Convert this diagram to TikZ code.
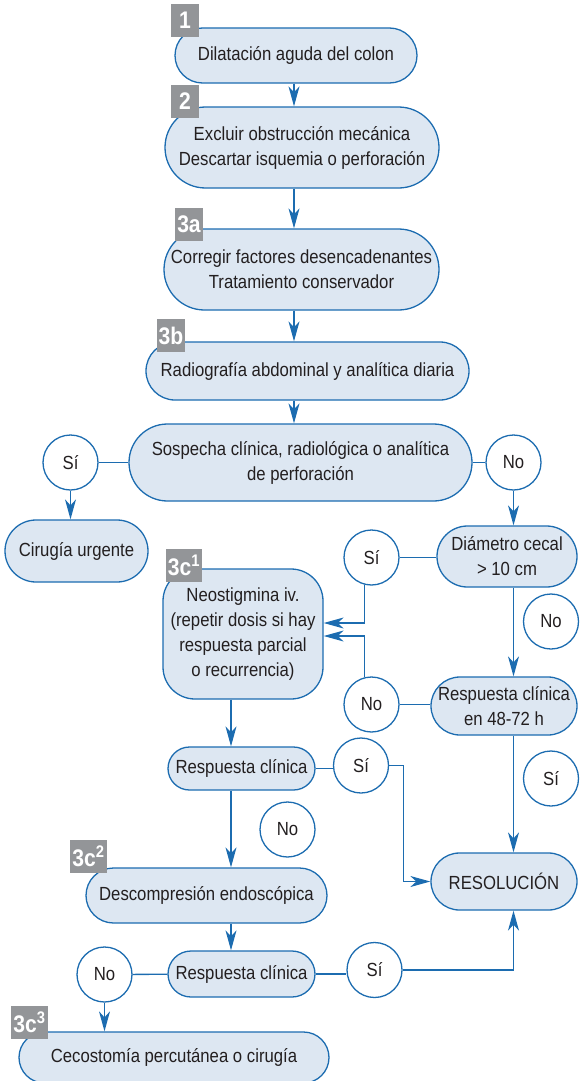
\documentclass[tikz,border=0pt]{standalone}
\usepackage{fontspec}
\setmainfont{Liberation Sans}[FakeStretch=0.88]
\usetikzlibrary{arrows.meta}
\definecolor{flowblue}{RGB}{28,108,176}
\definecolor{flowfill}{RGB}{221,231,242}
\definecolor{taggray}{RGB}{147,149,152}
\definecolor{flowtext}{RGB}{35,31,32}
\begin{document}
\begin{tikzpicture}[x=1pt, y=-1pt,
        font=\fontsize{19}{25}\selectfont, text=flowtext,
        >={Stealth[length=20pt, width=11pt, inset=6pt]},
        stage/.style 2 args={draw=flowblue, fill=flowfill, line width=1.3pt,
                    minimum width=#1pt, minimum height=#2pt,
                    rounded corners=#2pt/2, align=center, inner sep=0pt},
        answer/.style={circle, draw=flowblue, fill=white, line width=1.3pt,
                    minimum size=55pt, inner sep=0pt},
        tag/.style={fill=taggray, text=white, inner sep=2pt, minimum width=28pt,
                    minimum height=33pt, font=\fontsize{24}{24}\selectfont\bfseries},
        flow/.style={->, draw=flowblue, line width=1.3pt},
        link/.style={draw=flowblue, line width=1.3pt}]
      \useasboundingbox (0,0) rectangle (579,1081);
      % Columnas de las flechas
      \coordinate (spine)   at (294,0);
      \coordinate (leftcol) at (231,0);
      % Pasos principales
      \node[stage={242}{55}] (colon)   at (296,55.5)  {Dilatación aguda del colon};
      \node[stage={274}{81}] (exclude) at (302,147.5) {Excluir obstrucción mecánica\\Descartar isquemia o perforación};
      \node[stage={275}{81}] (correct) at (301.5,269.5) {Corregir factores desencadenantes\\Tratamiento conservador};
      \node[stage={323}{58}] (xray)    at (307.5,371) {Radiografía abdominal y analítica diaria};
      \node[stage={343}{77}] (suspect) at (300.5,462.5) {Sospecha clínica, radiológica o analítica\\de perforación};
      \node[stage={143}{62}] (surgery) at (76.5,551)  {Cirugía urgente};
      \node[stage={140}{61}] (cecal)   at (507,556.5) {Diámetro cecal\\> 10 cm};
      \node[stage={160}{130}, rounded corners=32pt] (neostig) at (243,634)
            {Neostigmina iv.\\(repetir dosis si hay\\respuesta parcial\\o recurrencia)};
      \node[stage={146}{58}] (resp48)  at (504,706)   {Respuesta clínica\\en 48-72 h};
      \node[stage={147}{43}] (respA)   at (241.5,768.5) {Respuesta clínica};
      \node[stage={146}{57}] (resolved) at (504,881.5) {RESOLUCIÓN};
      \node[stage={241}{55}] (endo)    at (206.5,895.5) {Descompresión endoscópica};
      \node[stage={147}{46}] (respB)   at (241.5,974) {Respuesta clínica};
      \node[stage={310}{51}] (cecost)  at (174,1057.5) {Cecostomía percutánea o cirugía};
      % Respuestas
      \node[answer] (yesPerf)   at (70.5,462.5)  {Sí};
      \node[answer] (noPerf)    at (513.5,462.5) {No};
      \node[answer] (yesCecal)  at (371.5,557.5) {Sí};
      \node[answer] (noCecal)   at (551,621.5)   {No};
      \node[answer] (noResp48)  at (371.5,704.5) {No};
      \node[answer] (yesResp48) at (551,778.5)   {Sí};
      \node[answer] (yesRespA)  at (361,765.5)   {Sí};
      \node[answer] (noRespA)   at (287.5,829.5) {No};
      \node[answer] (noRespB)   at (104.5,974.5) {No};
      \node[answer] (yesRespB)  at (374.5,970)   {Sí};
      % Etiquetas de paso
      \node[tag] (tag1)  at (185,20.5)    {1};
      \node[tag] (tag2)  at (185,101)     {2};
      \node[tag] (tag3a) at (189,224)     {3a};
      \node[tag] (tag3b) at (171,335.5)   {3b};
      \node[tag] (tag3c1) at (184,565)    {3c\textsuperscript{1}};
      \node[tag] (tag3c2) at (88.5,856)   {3c\textsuperscript{2}};
      \node[tag] (tag3c3) at (29.5,1022.5) {3c\textsuperscript{3}};
      % Flechas del eje central
      \draw[flow] (colon.south -| spine) -- (exclude.north -| spine);
      \draw[flow] (exclude.south -| spine) -- (correct.north -| spine);
      \draw[flow] (correct.south -| spine) -- (xray.north -| spine);
      \draw[flow] (xray.south -| spine) -- (suspect.north -| spine);
      % Perforacion
      \draw[link] (yesPerf) -- (suspect);
      \draw[link] (suspect) -- (noPerf);
      \draw[flow] (yesPerf.south) -- (yesPerf.south |- surgery.north);
      \draw[flow] (noPerf.south) -- (noPerf.south |- cecal.north);
      % Rama derecha
      \draw[link] (yesCecal.east) -- (yesCecal.east -| cecal.west);
      \draw[flow] (yesCecal.255) |- ([yshift=11pt]neostig.east);
      \draw[flow] (noResp48.105) |- ([yshift=-2pt]neostig.east);
      \draw[flow] (cecal.south -| noPerf) -- (resp48.north -| noPerf);
      \draw[link] (noResp48.east) -- (noResp48.east -| resp48.west);
      \draw[flow] (resp48.south -| noPerf) -- (resolved.north -| noPerf);
      % Rama izquierda
      \draw[flow] (neostig.south -| leftcol) -- (respA.north -| leftcol);
      \draw[link] (respA.east) -- (respA.east -| yesRespA.west);
      \draw[flow] (yesRespA.east) -- ++(14,0) |- (resolved.west);
      \draw[flow] (respA.south -| leftcol) -- (endo.north -| leftcol);
      \draw[flow] (endo.south -| leftcol) -- (respB.north -| leftcol);
      \draw[link] (respB) -- (noRespB);
      \draw[link] (respB.east) -- (respB.east -| yesRespB.west);
      \draw[flow] (noRespB.south) -- (noRespB.south |- cecost.north);
      \draw[flow] (yesRespB.east) -| (resolved.south -| noPerf);
\end{tikzpicture}
\end{document}
